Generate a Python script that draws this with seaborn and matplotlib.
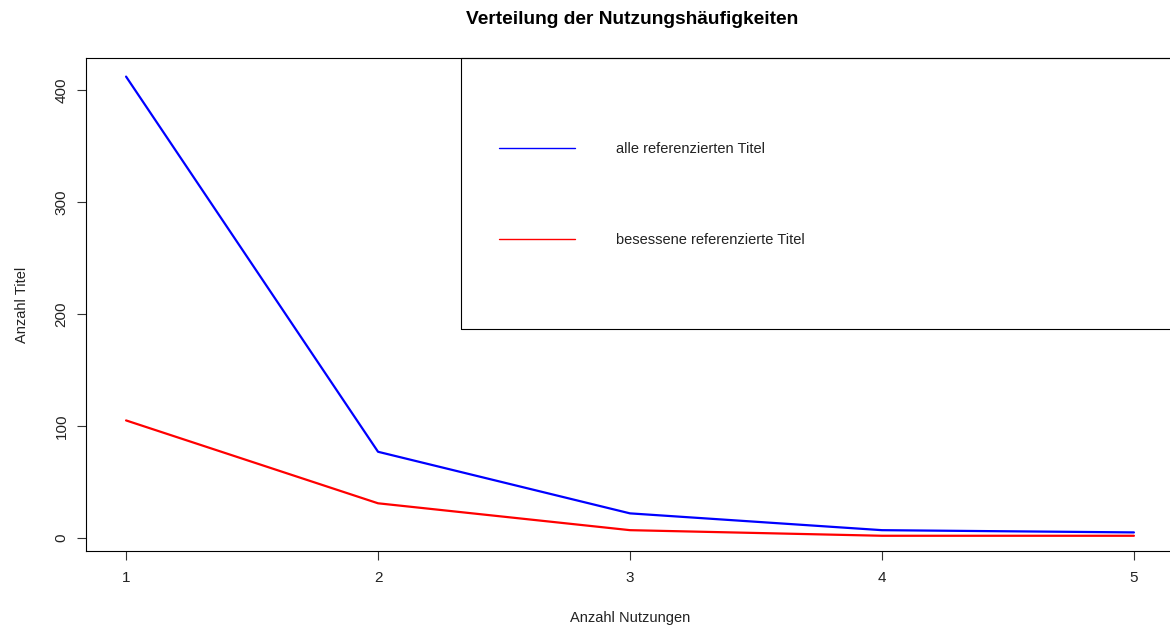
import matplotlib
matplotlib.use("Agg")
import matplotlib.pyplot as plt
import seaborn as sns
import pandas as pd
from matplotlib.patches import Rectangle
from matplotlib.lines import Line2D

# Data
nutzungen = [1, 2, 3, 4, 5]
alle_titel = [412, 77, 22, 7, 5]
besessene_titel = [105, 31, 7, 2, 2]
series_labels = ["alle referenzierten Titel", "besessene referenzierte Titel"]
series_colors = ["#0000FF", "#FF0000"]
y_ticks = [0, 100, 200, 300, 400]

df = pd.DataFrame({
    "Anzahl Nutzungen": nutzungen * 2,
    "Anzahl Titel": alle_titel + besessene_titel,
    "Serie": [series_labels[0]] * len(nutzungen) + [series_labels[1]] * len(nutzungen),
})

sns.set_theme(style="white")
plt.rcParams['font.family'] = ['Liberation Sans', 'DejaVu Sans']

W, H = 1170, 629
fig = plt.figure(figsize=(W / 100, H / 100), dpi=100)
ax = fig.add_axes([86 / W, (H - 551) / H, 1088 / W, 493 / H])

sns.lineplot(data=df, x="Anzahl Nutzungen", y="Anzahl Titel", hue="Serie",
             palette=series_colors, hue_order=series_labels, linewidth=1.6,
             ax=ax, legend=False)

ax.set_xlim(0.841, 5.159)
ax.set_ylim(-11.6, 428.6)
ax.set_xticks(nutzungen)
ax.set_yticks(y_ticks)
ax.set_xticklabels([str(v) for v in nutzungen])
ax.set_yticklabels([str(v) for v in y_ticks], rotation=90, va="center")

for s in ax.spines.values():
    s.set_visible(True)
    s.set_color("black")
    s.set_linewidth(0.8)

ax.tick_params(axis="both", which="both", direction="out", length=6.5, width=0.8,
               color="#333333", labelsize=11, labelcolor="#222222")
ax.tick_params(axis="y", pad=6, left=True)
ax.tick_params(axis="x", pad=8, bottom=True)

ax.set_xlabel("Anzahl Nutzungen", fontsize=10.5, color="#222222")
ax.set_ylabel("Anzahl Titel", fontsize=10.5, color="#222222")
ax.xaxis.set_label_coords(0.5, (551 - 611) / 493)
ax.yaxis.set_label_coords((28.5 - 86) / 1088, 0.5)

fig.text(632 / W, 1 - 19 / H, "Verteilung der Nutzungshäufigkeiten",
         ha="center", va="center", fontsize=13.8, fontweight="bold", color="black")

# Legend box (R-style)
x0 = (461 - 86) / 1088
y0 = (551 - 329) / 493
box = Rectangle((x0, y0), 1.2 - x0, 1 - y0, transform=ax.transAxes,
                fill=False, edgecolor="black", linewidth=0.8, clip_on=False)
ax.add_patch(box)

handles = [Line2D([], [], color=c, linewidth=1.0) for c in series_colors]
leg = ax.legend(handles, series_labels, loc="center left",
                bbox_to_anchor=((499 - 86) / 1088, (551 - 194.5) / 493),
                frameon=False, borderpad=0, borderaxespad=0,
                handlelength=5.2, handletextpad=2.85, labelspacing=5.3,
                fontsize=10.5)
for t in leg.get_texts():
    t.set_color("#222222")

fig.savefig("out.png", dpi=100)
